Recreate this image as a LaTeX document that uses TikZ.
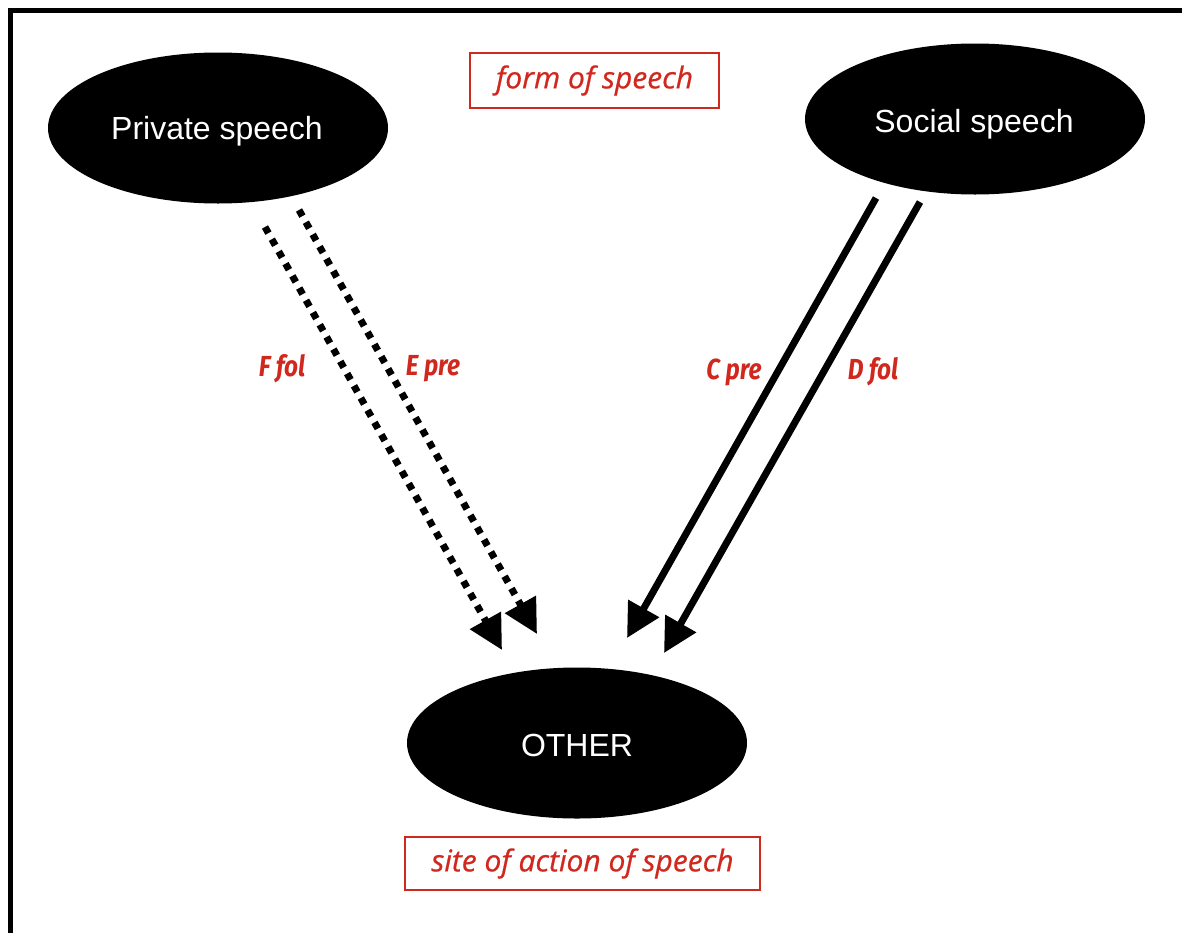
\documentclass[tikz,border=0pt]{standalone}
\usepackage{fontspec}
\setmainfont{Liberation Sans}
\newfontfamily\labelfont[FakeBold=0.7]{Open Sans}
\newfontfamily\tagfont[FakeStretch=0.84]{Fira Sans}
\usetikzlibrary{arrows.meta,shapes.geometric}
\definecolor{tagred}{RGB}{208,40,30}
\tikzset{
  blob/.style={ellipse, fill=black, minimum width=340pt, minimum height=151pt, inner sep=0pt},
  blobtext/.style={text=white, font=\fontsize{32}{32}\selectfont},
  formbox/.style={draw=tagred, line width=2.5pt, text=tagred, inner sep=0pt,
                  font=\labelfont\itshape\fontsize{30}{30}\selectfont},
  tag/.style={text=tagred, font=\tagfont\bfseries\itshape\fontsize{29}{29}\selectfont},
  dotarrow/.style={line width=7pt, dash pattern=on 7pt off 7pt,
                   -{Triangle[length=34pt,width=34pt]}},
  solidarrow/.style={line width=7pt, -{Triangle[length=34pt,width=34pt]}}
}
\begin{document}
\begin{tikzpicture}[x=1pt,y=-1pt]
  \useasboundingbox (0,0) rectangle (1182,932);
  \clip (0,0) rectangle (1182,932);
  % page frame
  \draw[line width=5pt] (10.5,10.5) rectangle (1250,1000);

  % the three speech ellipses and their names
  \node[blob] (priv) at (218,128) {};
  \node[blob] (soc) at (975,119) {};
  \node[blob] (other) at (577,743) {};
  \node[blobtext] (privtext) at (217,131) {Private speech};
  \node[blobtext] (soctext) at (974,124) {Social speech};
  \node[blobtext] (othertext) at (577,745) {OTHER};

  % captions
  \node[formbox, minimum width=249pt, minimum height=55pt] (form) at (594.5,80.5)
       {\raisebox{-3pt}{form of speech}};
  \node[formbox, minimum width=355pt, minimum height=53pt] (site) at (582.5,863.5)
       {\raisebox{-2pt}{site of action of speech}};

  % connector end points
  \coordinate (fs) at (265,227);
  \coordinate (fe) at (502,650);
  \coordinate (es) at (299,210);
  \coordinate (ee) at (537,634);
  \coordinate (cs) at (876,198);
  \coordinate (ce) at (627,638);
  \coordinate (ds) at (920,202);
  \coordinate (de) at (664,653);

  \draw[dotarrow] (fs) -- (fe);
  \draw[dotarrow] (es) -- (ee);
  \draw[solidarrow] (cs) -- (ce);
  \draw[solidarrow] (ds) -- (de);

  % arrow labels
  \node[tag] (ffol) at (282,369) {F fol};
  \node[tag] (epre) at (433,369) {E pre};
  \node[tag] (cpre) at (734,372) {C pre};
  \node[tag] (dfol) at (873,372) {D fol};
\end{tikzpicture}
\end{document}
